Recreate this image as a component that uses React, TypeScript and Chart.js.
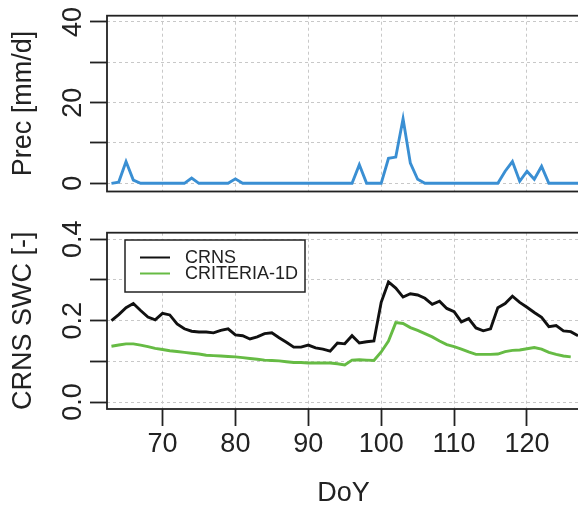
import React, { useEffect, useRef } from "react";
import { Chart, registerables } from "chart.js";

Chart.register(...registerables);

// ---- data ----
const doy = [
  63, 64, 65, 66, 67, 68, 69, 70, 71, 72,
  73, 74, 75, 76, 77, 78, 79, 80, 81, 82,
  83, 84, 85, 86, 87, 88, 89, 90, 91, 92,
  93, 94, 95, 96, 97, 98, 99, 100, 101, 102,
  103, 104, 105, 106, 107, 108, 109, 110, 111, 112,
  113, 114, 115, 116, 117, 118, 119, 120, 121, 122,
  123, 124, 125, 126, 127,
];

const prec = [
  0, 0.3, 5.4, 0.8, 0, 0, 0, 0, 0, 0,
  0, 1.3, 0, 0, 0, 0, 0, 1.1, 0, 0,
  0, 0, 0, 0, 0, 0, 0, 0, 0, 0,
  0, 0, 0, 0, 4.6, 0, 0, 0, 6.2, 6.5,
  16, 5, 1, 0, 0, 0, 0, 0, 0, 0,
  0, 0, 0, 0, 3, 5.4, 0.5, 3, 1, 4.2,
  0, 0, 0, 0, 0,
];

const crns = [
  0.2, 0.215, 0.232, 0.242, 0.225, 0.209, 0.202, 0.218, 0.214, 0.192,
  0.18, 0.174, 0.172, 0.172, 0.17, 0.176, 0.18, 0.165, 0.163, 0.155,
  0.16, 0.168, 0.17, 0.158, 0.147, 0.135, 0.135, 0.14, 0.133, 0.13,
  0.125, 0.145, 0.143, 0.163, 0.145, 0.148, 0.15, 0.245, 0.295, 0.28,
  0.258, 0.266, 0.263, 0.255, 0.24, 0.248, 0.23, 0.222, 0.197, 0.205,
  0.182, 0.175, 0.18, 0.232, 0.242, 0.26, 0.245, 0.233, 0.22, 0.208,
  0.185, 0.188, 0.175, 0.173, 0.163,
];

const criteria = [
  0.137, 0.14, 0.143, 0.143, 0.14, 0.136, 0.132, 0.129, 0.126, 0.124,
  0.122, 0.12, 0.118, 0.115, 0.114, 0.113, 0.112, 0.111, 0.109, 0.107,
  0.105, 0.103, 0.102, 0.101, 0.099, 0.097, 0.097, 0.096, 0.096, 0.096,
  0.096, 0.094, 0.091, 0.103, 0.104, 0.103, 0.102, 0.123, 0.15, 0.195,
  0.193, 0.183, 0.176, 0.168, 0.16, 0.15, 0.141, 0.136, 0.13, 0.123,
  0.117, 0.117, 0.117, 0.118, 0.124, 0.127, 0.128, 0.131, 0.134, 0.13,
  0.122, 0.117, 0.113, 0.111, null,
];

const xTicks = [70, 80, 90, 100, 110, 120];
const precTicks = [0, 10, 20, 30, 40];
const precLabels = ["0", "20", "40"];
const precLabelValues = [0, 20, 40];
const swcTicks = [0, 0.1, 0.2, 0.3, 0.4];
const swcLabels = ["0.0", "0.2", "0.4"];
const swcLabelValues = [0, 0.2, 0.4];
const seriesNames = ["CRNS", "CRITERIA-1D"];

// ---- style ----
const FONT = "'Liberation Sans', Arial, Helvetica, sans-serif";
const TEXT = "#222";
const GRID = "#c8c8c8";
const BLUE = "#3a8fd3";
const BLACK = "#111";
const GREEN = "#66bb44";
const X_MIN = 62.39;
const X_MAX = 127.27;
const CW = 600;
const CH = 508;

const framePlugin = (labels: string[], values: number[]) => ({
  id: "frame",
  afterDraw(chart: any) {
    const { ctx, chartArea } = chart;
    const y = chart.scales.y;
    ctx.save();
    ctx.strokeStyle = TEXT;
    ctx.lineWidth = 1.8;
    ctx.strokeRect(chartArea.left, chartArea.top, chartArea.right - chartArea.left, chartArea.bottom - chartArea.top);
    ctx.fillStyle = TEXT;
    ctx.font = `27px ${FONT}`;
    ctx.textAlign = "center";
    ctx.textBaseline = "middle";
    labels.forEach((lab, i) => {
      const py = y.getPixelForValue(values[i]);
      ctx.save();
      ctx.translate(74, py);
      ctx.rotate(-Math.PI / 2);
      ctx.fillText(lab, 0, 0);
      ctx.restore();
    });
    ctx.restore();
  },
});

const legendPlugin = {
  id: "boxLegend",
  afterDraw(chart: any) {
    const { ctx } = chart;
    ctx.save();
    ctx.fillStyle = "#fff";
    ctx.fillRect(125, 240, 180, 52);
    ctx.strokeStyle = TEXT;
    ctx.lineWidth = 1.5;
    ctx.strokeRect(125, 240, 180, 52);
    const cols = [BLACK, GREEN];
    const ys = [257.5, 273.5];
    ctx.font = `18px ${FONT}`;
    ctx.textBaseline = "middle";
    ctx.textAlign = "left";
    seriesNames.forEach((n, i) => {
      ctx.strokeStyle = cols[i];
      ctx.lineWidth = 2;
      ctx.beginPath();
      ctx.moveTo(140, ys[i]);
      ctx.lineTo(170, ys[i]);
      ctx.stroke();
      ctx.fillStyle = TEXT;
      ctx.fillText(n, 185, ys[i] + 1);
    });
    ctx.restore();
  },
};

const yAxisBase = (title: string, ticks: number[], min: number, max: number) => ({
  type: "linear" as const,
  min,
  max,
  afterBuildTicks: (s: any) => {
    s.ticks = ticks.map((v) => ({ value: v }));
  },
  afterFit: (s: any) => {
    s.width = 107;
  },
  ticks: { display: false },
  grid: {
    color: GRID,
    lineWidth: 1,
    drawTicks: true,
    tickLength: 17,
    tickColor: TEXT,
    tickWidth: 1.8,
    tickBorderDash: [],
  },
  border: { display: false, dash: [3, 3] },
  title: {
    display: true,
    text: title,
    color: TEXT,
    font: { size: 27, family: FONT },
    padding: { top: 7, bottom: 0 },
  },
});

export default function App() {
  const topRef = useRef<HTMLCanvasElement>(null);
  const botRef = useRef<HTMLCanvasElement>(null);

  useEffect(() => {
    const top = new Chart(topRef.current!, {
      type: "line",
      data: {
        datasets: [
          {
            data: doy.map((d, i) => ({ x: d, y: prec[i] })),
            borderColor: BLUE,
            borderWidth: 2.9,
            pointRadius: 0,
            tension: 0,
          },
        ],
      },
      options: {
        animation: false,
        responsive: false,
        layout: { padding: { left: 0, right: CW - 580, top: 15.7, bottom: CH - 191.5 } },
        plugins: { legend: { display: false }, tooltip: { enabled: false } },
        scales: {
          x: {
            type: "linear",
            min: X_MIN,
            max: X_MAX,
            afterBuildTicks: (s: any) => {
              s.ticks = xTicks.map((v) => ({ value: v }));
            },
            afterFit: (s: any) => {
              s.height = 0;
            },
            ticks: { display: false },
            grid: { color: GRID, lineWidth: 1, drawTicks: false },
            border: { display: false, dash: [3, 3] },
          },
          y: yAxisBase("Prec [mm/d]", precTicks, -2.03, 41.56),
        },
      } as any,
      plugins: [framePlugin(precLabels, precLabelValues)],
    });

    const bot = new Chart(botRef.current!, {
      type: "line",
      data: {
        datasets: [
          {
            label: seriesNames[0],
            data: doy.map((d, i) => ({ x: d, y: crns[i] })),
            borderColor: BLACK,
            borderWidth: 2.9,
            pointRadius: 0,
            tension: 0,
          },
          {
            label: seriesNames[1],
            data: doy.map((d, i) => ({ x: d, y: criteria[i] })),
            borderColor: GREEN,
            borderWidth: 2.9,
            pointRadius: 0,
            tension: 0,
            spanGaps: false,
          },
        ],
      },
      options: {
        animation: false,
        responsive: false,
        layout: { padding: { left: 0, right: CW - 580, top: 232.7, bottom: 0 } },
        plugins: { legend: { display: false }, tooltip: { enabled: false } },
        scales: {
          x: {
            type: "linear",
            min: X_MIN,
            max: X_MAX,
            afterBuildTicks: (s: any) => {
              s.ticks = xTicks.map((v) => ({ value: v }));
            },
            afterFit: (s: any) => {
              s.height = CH - 409;
            },
            ticks: {
              display: true,
              color: TEXT,
              font: { size: 27, family: FONT },
              padding: 2,
              maxRotation: 0,
              minRotation: 0,
              autoSkip: false,
              callback: (v: any) => String(v),
            },
            grid: {
              color: GRID,
              lineWidth: 1,
              drawTicks: true,
              tickLength: 17,
              tickColor: TEXT,
              tickWidth: 1.8,
              tickBorderDash: [],
            },
            border: { display: false, dash: [3, 3] },
            title: {
              display: true,
              text: "DoY",
              color: TEXT,
              font: { size: 27, family: FONT },
              padding: { top: 0, bottom: -2 },
            },
          },
          y: yAxisBase("CRNS SWC [-]", swcTicks, -0.0172, 0.4162),
        },
      } as any,
      plugins: [framePlugin(swcLabels, swcLabelValues), legendPlugin],
    });

    return () => {
      top.destroy();
      bot.destroy();
    };
  }, []);

  const cs: React.CSSProperties = { position: "absolute", left: 0, top: 0 };
  return (
    <div
      style={{
        position: "fixed",
        left: 0,
        top: 0,
        width: 578,
        height: 508,
        overflow: "hidden",
        background: "#fff",
      }}
    >
      <canvas ref={topRef} width={CW} height={CH} style={cs} />
      <canvas ref={botRef} width={CW} height={CH} style={cs} />
    </div>
  );
}
